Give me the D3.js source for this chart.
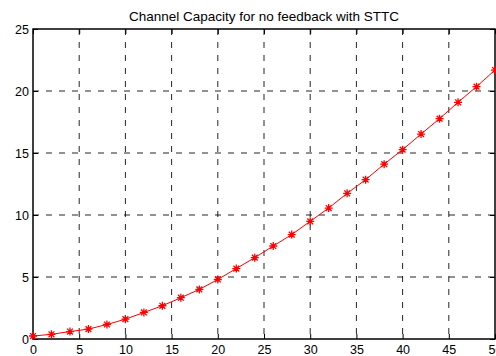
<!DOCTYPE html>
<html>
<head>
<meta charset="utf-8">
<script src="https://cdn.jsdelivr.net/npm/d3@7"></script>
<style>
  body { margin: 0; background: #fff; }
  svg { display: block; font-family: "Liberation Sans", Arial, sans-serif; }
  .tick text { font-size: 12.5px; fill: #000; }
  .grid line { stroke: #000; stroke-dasharray: 6,7; stroke-width: 1; opacity: 0.85; }
</style>
</head>
<body>
<script>
// STTC capacity, no feedback
const snr = [0, 2, 4, 6, 8, 10, 12, 14, 16, 18, 20, 22, 24, 26, 28, 30, 32, 34, 36, 38, 40, 42, 44, 46, 48, 50];
const capacity = [0.24, 0.38, 0.6, 0.8, 1.17, 1.6, 2.14, 2.68, 3.33, 4.0, 4.8, 5.68, 6.56, 7.5, 8.42, 9.49,
                  10.56, 11.75, 12.85, 14.1, 15.27, 16.53, 17.77, 19.09, 20.35, 21.69];
const xTicks = [0, 5, 10, 15, 20, 25, 30, 35, 40, 45, 50];
const yTicks = [0, 5, 10, 15, 20, 25];
const title = "Channel Capacity for no feedback with STTC";

const W = 496, H = 356;
const margin = {left: 33, top: 29, right: 1, bottom: 17};
const w = W - margin.left - margin.right;
const h = H - margin.top - margin.bottom;

const svg = d3.select('body').append('svg').attr('width', W).attr('height', H);
const g = svg.append('g').attr('transform', 'translate(' + margin.left + ',' + margin.top + ')');

const x = d3.scaleLinear().domain([0, 50]).range([0, w]);
const y = d3.scaleLinear().domain([0, 25]).range([h, 0]);

// grid
const grid = g.append('g').attr('class', 'grid');
grid.selectAll('line.v').data(xTicks.slice(1, -1)).enter().append('line')
    .attr('x1', d => x(d)).attr('x2', d => x(d)).attr('y1', 0).attr('y2', h);
grid.selectAll('line.h').data(yTicks.slice(1, -1)).enter().append('line')
    .attr('x1', 0).attr('x2', w).attr('y1', d => y(d)).attr('y2', d => y(d));

// axes, ticks inward
g.append('g').attr('transform', 'translate(0,' + h + ')')
    .call(d3.axisBottom(x).tickValues(xTicks).tickSizeInner(-5).tickSizeOuter(0).tickPadding(6));
g.append('g')
    .call(d3.axisLeft(y).tickValues(yTicks).tickSizeInner(-5).tickSizeOuter(0).tickPadding(4));
g.append('g').call(d3.axisTop(x).tickValues(xTicks).tickSizeInner(-5).tickSizeOuter(0).tickFormat(''));
g.append('g').attr('transform', 'translate(' + w + ',0)')
    .call(d3.axisRight(y).tickValues(yTicks).tickSizeInner(-5).tickSizeOuter(0).tickFormat(''));
g.selectAll('.domain').remove();
g.selectAll('.tick line').attr('stroke', '#000');
g.append('rect').attr('width', w).attr('height', h)
    .attr('fill', 'none').attr('stroke', '#000').attr('stroke-width', 1.5);

// curve
const pts = snr.map((s, i) => [s, capacity[i]]);
g.append('path').datum(pts)
    .attr('fill', 'none').attr('stroke', '#ff0000').attr('stroke-width', 1)
    .attr('d', d3.line().x(d => x(d[0])).y(d => y(d[1])));

// asterisk markers
const star = 'M-4,0L4,0M0,-4L0,4M-2.9,-2.9L2.9,2.9M-2.9,2.9L2.9,-2.9';
g.append('g').selectAll('path').data(pts).enter().append('path')
    .attr('transform', d => 'translate(' + x(d[0]) + ',' + y(d[1]) + ')')
    .attr('d', star).attr('stroke', '#ff0000').attr('stroke-width', 1.3).attr('fill', 'none');

// title
svg.append('text').attr('x', margin.left + w / 2).attr('y', 21)
    .attr('text-anchor', 'middle').style('font-size', '13.5px').text(title);
</script>
</body>
</html>
